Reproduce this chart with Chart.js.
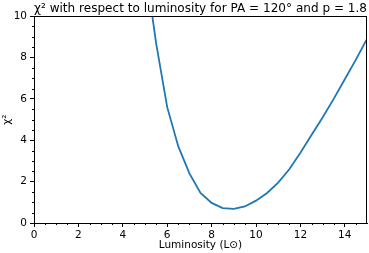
<!DOCTYPE html>
<html>
<head>
<meta charset="utf-8">
<script src="https://cdn.jsdelivr.net/npm/chart.js@4"></script>
<style>
  html, body { margin: 0; padding: 0; background: #fff; }
  #wrap { width: 369px; height: 253px; }
</style>
</head>
<body>
<div id="wrap"><canvas id="chi2" width="369" height="253"></canvas></div>
<script>
// Luminosity samples (L_sun) and chi-square values
var luminosity = [5, 5.5, 6, 6.5, 7, 7.5, 8, 8.5, 9, 9.5, 10, 10.5, 11, 11.5, 12, 12.5, 13, 13.5, 14, 14.5, 15];
var chiSquare  = [12.5, 8.7, 5.6, 3.7, 2.4, 1.45, 0.97, 0.72, 0.68, 0.8, 1.08, 1.45, 1.95, 2.6, 3.4, 4.25, 5.1, 6.0, 6.95, 7.9, 8.9];
var xTicks = [0, 2, 4, 6, 8, 10, 12, 14];
var yTicks = [0, 2, 4, 6, 8, 10];

var points = luminosity.map(function (l, i) { return { x: l, y: chiSquare[i] }; });

// matplotlib-like frame: top/right spines plus minor ticks
var framePlugin = {
    id: 'frame',
    afterDraw: function (chart) {
        var ctx = chart.ctx, a = chart.chartArea;
        var xs = chart.scales.x, ys = chart.scales.y;
        ctx.save();
        ctx.strokeStyle = '#000';
        ctx.lineWidth = 1;
        ctx.strokeRect(Math.round(a.left) + 0.5, Math.round(a.top) + 0.5,
            Math.round(a.right - a.left) - 1, Math.round(a.bottom - a.top));
        ctx.beginPath();
        for (var v = 0.5; v < 15; v += 0.5) {
            if (v % 2 === 0) continue;
            var px = Math.round(xs.getPixelForValue(v)) + 0.5;
            ctx.moveTo(px, a.bottom);
            ctx.lineTo(px, a.bottom + 2);
        }
        for (var w = 0.5; w < 10; w += 0.5) {
            if (w % 2 === 0) continue;
            var py = Math.round(ys.getPixelForValue(w)) + 0.5;
            ctx.moveTo(a.left, py);
            ctx.lineTo(a.left - 2, py);
        }
        ctx.stroke();
        ctx.restore();
    }
};

Chart.defaults.font.family = 'DejaVu Sans';
Chart.defaults.color = '#000';

new Chart(document.getElementById('chi2'), {
    type: 'line',
    data: {
        datasets: [{
            data: points,
            borderColor: '#1f77b4',
            borderWidth: 1.8,
            pointRadius: 0,
            tension: 0,
            fill: false
        }]
    },
    options: {
        responsive: false,
        animation: false,
        layout: { padding: { left: 0, right: 2, top: 0, bottom: 0 } },
        plugins: {
            legend: { display: false },
            tooltip: { enabled: false },
            title: {
                display: true,
                fullSize: false,
                text: 'χ² with respect to luminosity for PA = 120° and p = 1.8',
                font: { size: 12.2, weight: 'normal' },
                padding: { top: 1.5, bottom: 0 },
                color: '#000'
            }
        },
        scales: {
            x: {
                type: 'linear',
                min: 0,
                max: 15,
                afterBuildTicks: function (s) { s.ticks = xTicks.map(function (v) { return { value: v }; }); },
                afterFit: function (s) { s.height = 30; },
                ticks: { font: { size: 10.5 }, padding: 2, maxRotation: 0 },
                grid: { display: true, drawOnChartArea: false, tickLength: 4, color: '#000' },
                border: { display: true, color: '#000' },
                title: { display: true, text: 'Luminosity (L⊙)', font: { size: 10.5 }, padding: { top: 0, bottom: 1 } }
            },
            y: {
                type: 'linear',
                min: 0,
                max: 10,
                afterBuildTicks: function (s) { s.ticks = yTicks.map(function (v) { return { value: v }; }); },
                afterFit: function (s) { s.width = 34; },
                ticks: { font: { size: 10.5 }, padding: 3 },
                grid: { display: true, drawOnChartArea: false, tickLength: 4, color: '#000' },
                border: { display: true, color: '#000' },
                title: { display: true, text: 'χ²', font: { size: 10.5 }, padding: { top: 1, bottom: 0 } }
            }
        }
    },
    plugins: [framePlugin]
});
</script>
</body>
</html>
